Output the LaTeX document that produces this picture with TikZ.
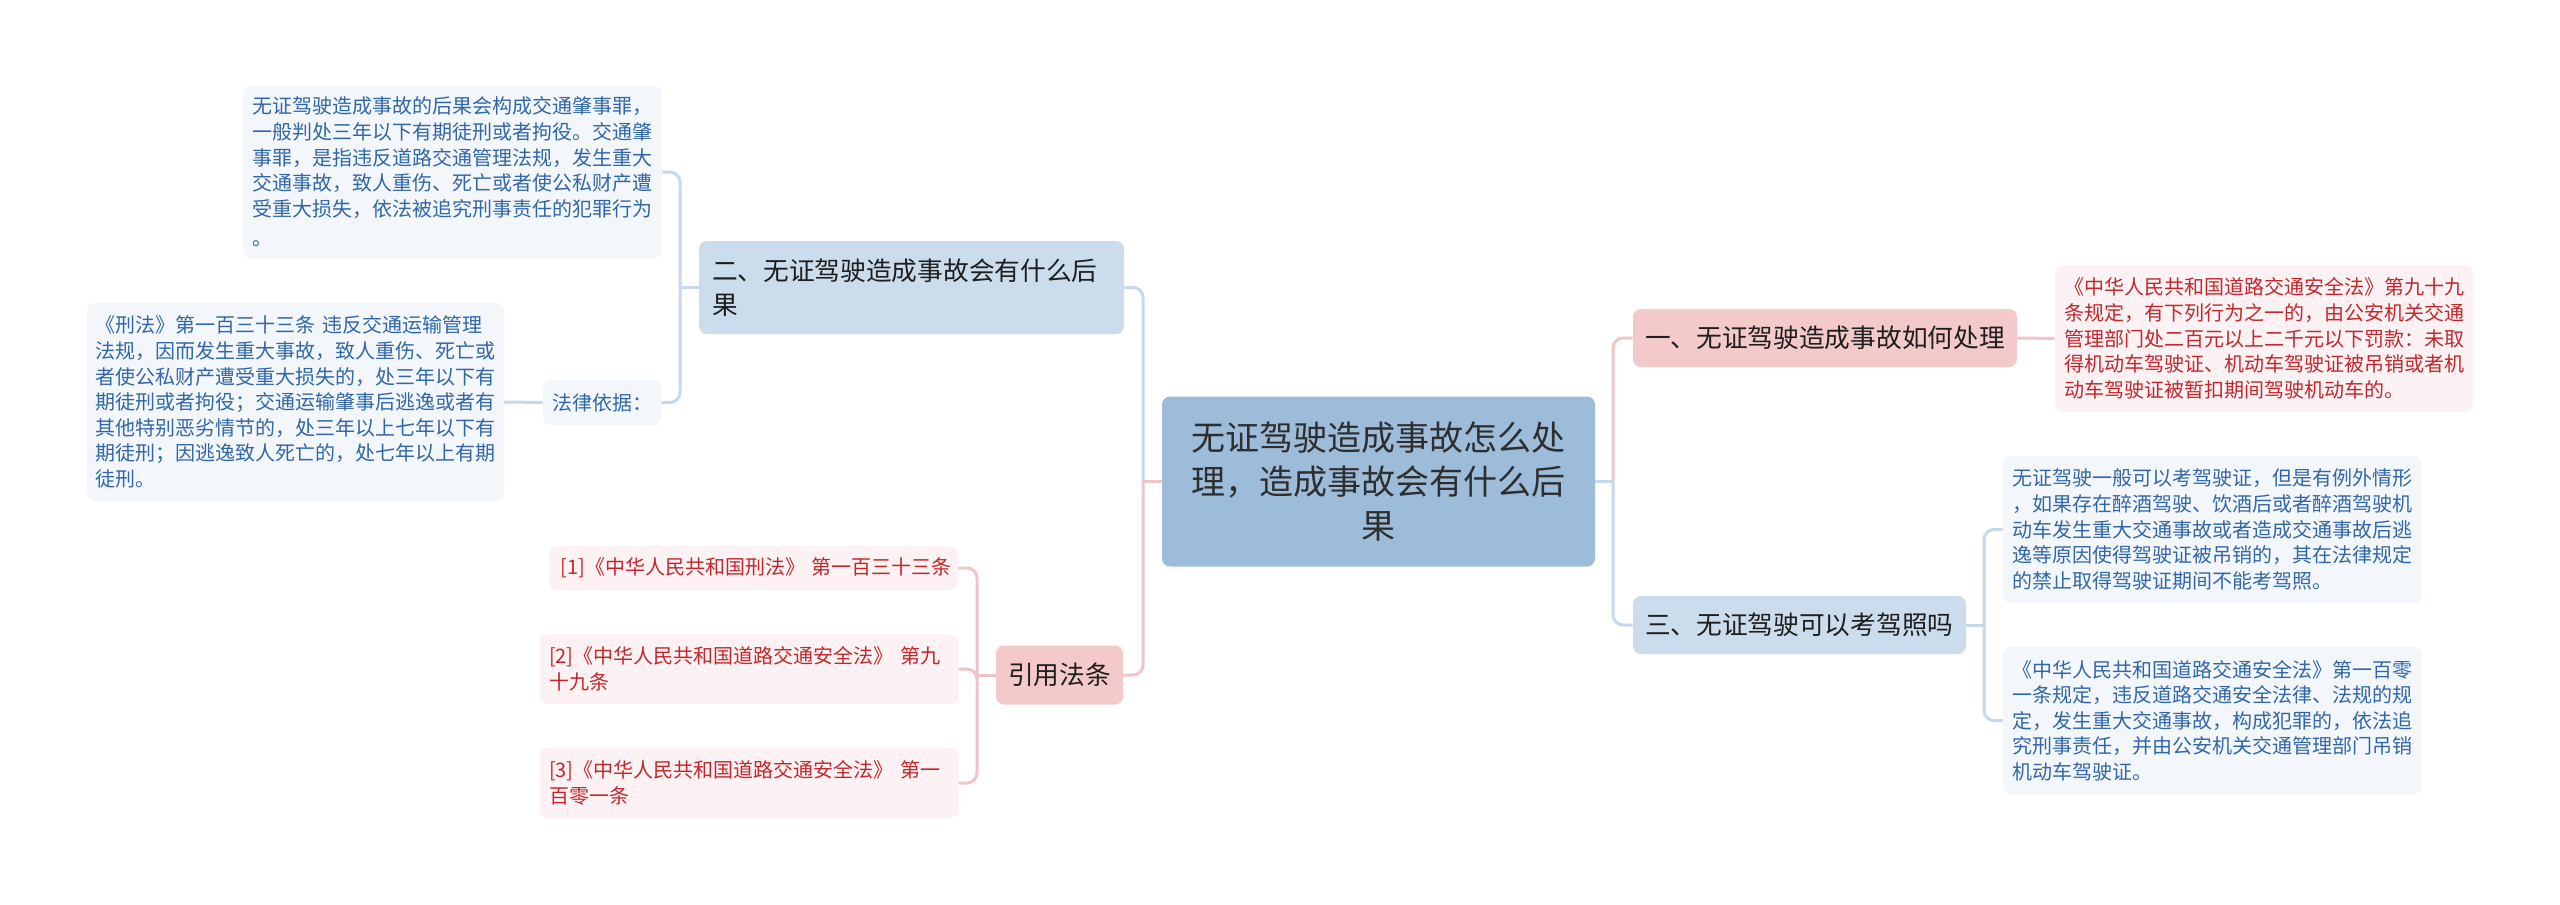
\documentclass[tikz,border=0pt]{standalone}
\usepackage{fontspec}
\setmainfont{Noto Sans CJK SC}
\definecolor{rootfill}{HTML}{9DBCDA}
\definecolor{roottext}{HTML}{2E2E2E}
\definecolor{lonefill}{HTML}{CBDCEC}
\definecolor{lpinkfill}{HTML}{F4C9CA}
\definecolor{lonetext}{HTML}{1E1E1E}
\definecolor{leafbfill}{HTML}{F3F7FC}
\definecolor{leafbtext}{HTML}{3167A8}
\definecolor{leafpfill}{HTML}{FDF2F3}
\definecolor{leafptext}{HTML}{C1272D}
\definecolor{linkblue}{HTML}{C8D7E9}
\definecolor{linkpink}{HTML}{F0C5C8}
\begin{document}
\begin{tikzpicture}[x=0.5pt,y=-0.5pt,
  basebox/.style={rounded corners=4pt, inner ysep=0pt, anchor=center},
  rootbox/.style={basebox, fill=rootfill, text=roottext, font=\fontsize{17pt}{22pt}\selectfont, align=center},
  onebox/.style={basebox, fill=lonefill, text=lonetext, font=\fontsize{12.85pt}{17pt}\selectfont, align=left},
  pinkbox/.style={basebox, fill=lpinkfill, text=lonetext, font=\fontsize{12.85pt}{17pt}\selectfont, align=left},
  leafblue/.style={basebox, fill=leafbfill, text=leafbtext, font=\fontsize{10pt}{12.8pt}\selectfont, align=left},
  leafpink/.style={basebox, fill=leafpfill, text=leafptext, font=\fontsize{10pt}{12.8pt}\selectfont, align=left},
  lb/.style={draw=linkblue, line width=1.5pt},
  lp/.style={draw=linkpink, line width=1.5pt},
  rc/.style={rounded corners=5pt}
]
\fill[white] (0,0) rectangle (2560,905);
\useasboundingbox (0,0) rectangle (2560,905);

% root
\node[rootbox, minimum width=216.5pt, text width=200pt, inner xsep=8.25pt, minimum height=85pt] (root) at (1378.5,481.5)
  {无证驾驶造成事故怎么处\\理，造成事故会有什么后\\果};

% level one
\node[onebox, minimum width=212.5pt, text width=199.5pt, inner xsep=6.5pt, minimum height=46.5pt] (two) at (911.5,287.5)
  {二、无证驾驶造成事故会有什么后\\果};
\node[pinkbox, minimum width=63.5pt, text width=51.5pt, inner xsep=6pt, minimum height=29.5pt, align=center] (cite) at (1059.5,675)
  {引用法条};
\node[pinkbox, minimum width=192pt, text width=180pt, inner xsep=6pt, minimum height=29pt] (one) at (1825,338)
  {一、无证驾驶造成事故如何处理};
\node[onebox, minimum width=166.5pt, text width=154.5pt, inner xsep=6pt, minimum height=29pt] (three) at (1799.5,625)
  {三、无证驾驶可以考驾照吗};

% left leaves
\node[leafblue, minimum width=209.5pt, text width=200pt, inner xsep=4.75pt, minimum height=86pt] (tl) at (452.5,172)
  {无证驾驶造成事故的后果会构成交通肇事罪，\\一般判处三年以下有期徒刑或者拘役。交通肇\\事罪，是指违反道路交通管理法规，发生重大\\交通事故，致人重伤、死亡或者使公私财产遭\\受重大损失，依法被追究刑事责任的犯罪行为\\[2pt]。};
\node[leafblue, minimum width=59pt, text width=50pt, inner xsep=4.5pt, minimum height=22.5pt, align=center] (law) at (602,402.5)
  {法律依据：};
\node[leafblue, minimum width=208.5pt, text width=200pt, inner xsep=4.25pt, minimum height=99pt] (lbx) at (295.5,402)
  {《刑法》第一百三十三条 违反交通运输管理\\法规，因而发生重大事故，致人重伤、死亡或\\者使公私财产遭受重大损失的，处三年以下有\\期徒刑或者拘役；交通运输肇事后逃逸或者有\\其他特别恶劣情节的，处三年以上七年以下有\\期徒刑；因逃逸致人死亡的，处七年以上有期\\徒刑。};

\node[leafpink, minimum width=204.5pt, text width=200pt, inner xsep=2.25pt, minimum height=22pt] (r1) at (753.5,568)
  {\mbox{\hspace{3.5pt}[1]《中华人民共和国刑法》 第一百三十三条}};
\node[leafpink, minimum width=209.5pt, text width=200pt, inner xsep=4.75pt, minimum height=35pt] (r2) at (749,669)
  {\mbox{[2]《中华人民共和国道路交通安全法》 第九}\\十九条};
\node[leafpink, minimum width=209.5pt, text width=200pt, inner xsep=4.75pt, minimum height=35pt] (r3) at (749,783)
  {\mbox{[3]《中华人民共和国道路交通安全法》 第一}\\百零一条};

% right leaves
\node[leafpink, minimum width=209pt, text width=200pt, inner xsep=4.5pt, minimum height=73.5pt] (b1) at (2264,338.5)
  {《中华人民共和国道路交通安全法》第九十九\\条规定，有下列行为之一的，由公安机关交通\\管理部门处二百元以上二千元以下罚款：未取\\得机动车驾驶证、机动车驾驶证被吊销或者机\\动车驾驶证被暂扣期间驾驶机动车的。};
\node[leafblue, minimum width=209.5pt, text width=200pt, inner xsep=4.75pt, minimum height=73.5pt] (b2) at (2212.5,529.5)
  {无证驾驶一般可以考驾驶证，但是有例外情形\\，如果存在醉酒驾驶、饮酒后或者醉酒驾驶机\\动车发生重大交通事故或者造成交通事故后逃\\逸等原因使得驾驶证被吊销的，其在法律规定\\的禁止取得驾驶证期间不能考驾照。};
\node[leafblue, minimum width=209.5pt, text width=200pt, inner xsep=4.75pt, minimum height=73.5pt] (b3) at (2212.5,720.5)
  {《中华人民共和国道路交通安全法》第一百零\\一条规定，违反道路交通安全法律、法规的规\\定，发生重大交通事故，构成犯罪的，依法追\\究刑事责任，并由公安机关交通管理部门吊销\\机动车驾驶证。};

% junction coordinates
\coordinate (jl) at (1143,481.5);
\coordinate (jr) at (1613,481.5);
\coordinate (jtwo) at (680,287.5);
\coordinate (jcite) at (977,675);
\coordinate (jthree) at (1984,625);

% connectors root -> left
\draw[lb, rc] (jl) |- (two.east);
\draw[lp, rc] (jl) |- (cite.east);
\draw[lp] (root.west) -- (jl);
% root -> right
\draw[lp, rc] (jr) |- (one.west);
\draw[lb, rc] (jr) |- (three.west);
\draw[lb] (root.east) -- (jr);

% two -> children
\draw[lb] (two.west) -- (jtwo);
\draw[lb, rc] (jtwo) |- (tl.east);
\draw[lb, rc] (jtwo) |- (law.east);
\draw[lb] (law.west) -- (lbx.east);

% cite -> children
\draw[lp] (cite.west) -- (jcite);
\draw[lp, rc] (jcite) |- (r1.east);
\draw[lp, rc] (jcite) |- (r2.east);
\draw[lp, rc] (jcite) |- (r3.east);

% one -> leaf
\draw[lp] (one.east) -- (b1.west);

% three -> children
\draw[lb] (three.east) -- (jthree);
\draw[lb, rc] (jthree) |- (b2.west);
\draw[lb, rc] (jthree) |- (b3.west);
\end{tikzpicture}
\end{document}
